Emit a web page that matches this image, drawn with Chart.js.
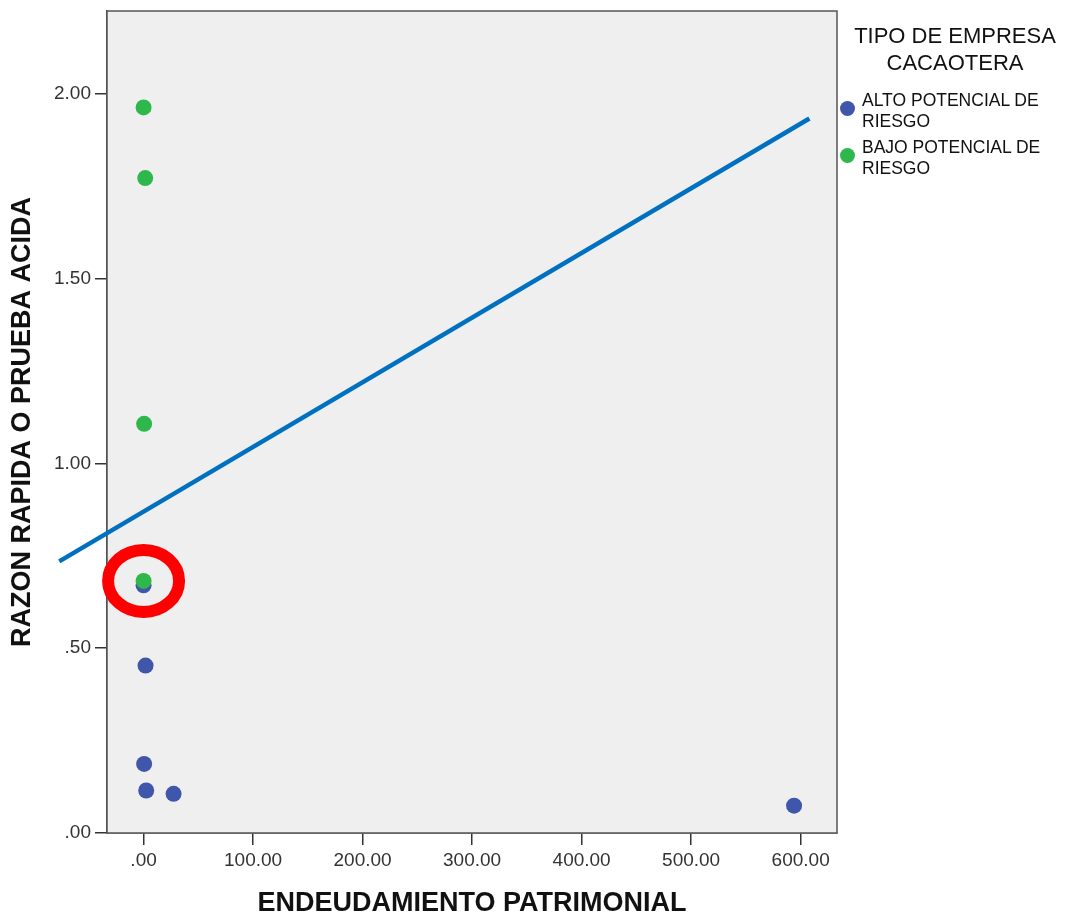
<!DOCTYPE html>
<html>
<head>
<meta charset="utf-8">
<script src="https://cdn.jsdelivr.net/npm/chart.js@4/dist/chart.umd.min.js"></script>
<style>
  html, body { margin: 0; padding: 0; background: #fff; }
  #wrap { position: relative; width: 1068px; height: 917px; }
  #legend { position: absolute; left: 838px; top: 0; width: 230px; font-family: "Liberation Sans", Arial, sans-serif; color: #111; }
  #legend .ttl { position: absolute; left: 0; width: 234px; text-align: center; font-size: 22px; line-height: 27px; top: 22px; }
  #legend .item { position: absolute; left: 2px; font-size: 17.5px; line-height: 21px; }
  #legend .dot { position: absolute; left: 0; width: 15px; height: 15px; border-radius: 50%; }
  #legend .txt { position: absolute; left: 22px; white-space: nowrap; }
</style>
</head>
<body>
<div id="wrap">
  <canvas id="chart" width="1068" height="917"></canvas>
  <div id="legend"></div>
</div>
<script>
// series
const altoX = [0.0, 1.8, 0.5, 2.4, 27.4, 594.0];
const altoY = [0.670, 0.453, 0.187, 0.115, 0.106, 0.074];
const bajoX = [0.0, 1.5, 0.5, 0.0];
const bajoY = [1.963, 1.772, 1.107, 0.682];
// fit line ends
const lineX = [-77, 608];
const lineY = [0.735, 1.933];
// highlighted point
const markX = [0.0];
const markY = [0.682];

const legendTitle = ['TIPO DE EMPRESA', 'CACAOTERA'];
const seriesNames = [['ALTO POTENCIAL DE', 'RIESGO'], ['BAJO POTENCIAL DE', 'RIESGO']];
const seriesColors = ['#3F56AB', '#2EB84C'];

const xTitle = 'ENDEUDAMIENTO PATRIMONIAL';
const yTitle = 'RAZON RAPIDA O PRUEBA ACIDA';

const pts = (xs, ys) => xs.map((x, i) => ({ x: x, y: ys[i] }));
const fmt = v => (v === 0 ? '.00' : (Math.abs(v) < 1 ? '.' + v.toFixed(2).split('.')[1] : v.toFixed(2)));

const FONT = '"Liberation Sans", Arial, sans-serif';

// plot background + frame, red ring on top
const framePlugin = {
  id: 'frame',
  beforeDatasetsDraw(chart) {
    const { ctx, chartArea: a } = chart;
    ctx.save();
    ctx.fillStyle = '#EFEFEF';
    ctx.fillRect(a.left, a.top, a.right - a.left, a.bottom - a.top);
    ctx.strokeStyle = '#555';
    ctx.lineWidth = 1.5;
    ctx.strokeRect(a.left, a.top, a.right - a.left, a.bottom - a.top);
    ctx.restore();
  },
  afterDatasetsDraw(chart) {
    const { ctx, scales } = chart;
    ctx.save();
    ctx.strokeStyle = '#FF0000';
    ctx.lineWidth = 12;
    markX.forEach((mx, i) => {
      const px = scales.x.getPixelForValue(mx);
      const py = scales.y.getPixelForValue(markY[i]);
      ctx.beginPath();
      ctx.ellipse(px, py, 35.5, 31, 0, 0, Math.PI * 2);
      ctx.stroke();
    });
    ctx.restore();
  }
};

const axisCommon = {
  grid: { drawOnChartArea: false, drawTicks: true, tickLength: 12, color: '#333', lineWidth: 1.5 },
  border: { display: true, color: '#444', width: 1.5 },
};

new Chart(document.getElementById('chart'), {
  type: 'scatter',
  data: {
    datasets: [
      { label: seriesNames[0].join(' '), data: pts(altoX, altoY), backgroundColor: seriesColors[0], borderWidth: 0, pointRadius: 8, order: 2 },
      { label: seriesNames[1].join(' '), data: pts(bajoX, bajoY), backgroundColor: seriesColors[1], borderWidth: 0, pointRadius: 8, order: 1 },
      { type: 'line', label: 'fit', data: pts(lineX, lineY), borderColor: '#0070C0', borderWidth: 4.5, pointRadius: 0, fill: false, clip: false, order: 0 }
    ]
  },
  options: {
    responsive: false,
    animation: false,
    events: [],
    layout: { padding: { left: 0, top: 11, right: 231, bottom: 0 } },
    plugins: { legend: { display: false }, tooltip: { enabled: false } },
    scales: {
      x: {
        ...axisCommon,
        type: 'linear',
        min: -33.4,
        max: 633.2,
        afterFit: s => { s.height = 84; s.paddingLeft = 0; s.paddingRight = 0; },
        ticks: { stepSize: 100, includeBounds: false, padding: 4, color: '#333', font: { family: FONT, size: 19 }, callback: v => fmt(v) },
        title: { display: true, text: xTitle, color: '#111', font: { family: FONT, size: 27, weight: 'bold', lineHeight: 1.0 }, padding: { top: 0, bottom: 0 } }
      },
      y: {
        ...axisCommon,
        type: 'linear',
        min: 0,
        max: 2.224,
        afterFit: s => { s.width = 107; s.paddingTop = 0; s.paddingBottom = 0; },
        ticks: { stepSize: 0.5, includeBounds: false, padding: 4, color: '#333', font: { family: FONT, size: 19 }, callback: v => fmt(v) },
        title: { display: true, text: yTitle, color: '#111', font: { family: FONT, size: 27, weight: 'bold', lineHeight: 1.0 }, padding: { top: 9, bottom: 9 } }
      }
    }
  },
  plugins: [framePlugin]
});

// legend as html text
const lg = document.getElementById('legend');
lg.innerHTML = '<div class="ttl">' + legendTitle.join('<br>') + '</div>' +
  seriesNames.map((n, i) => {
    const top = 90 + i * 47;
    return '<div class="item" style="top:' + top + 'px">' +
      '<span class="dot" style="top:' + 11 + 'px;background:' + seriesColors[i] + '"></span>' +
      '<span class="txt">' + n.join('<br>') + '</span></div>';
  }).join('');
</script>
</body>
</html>
